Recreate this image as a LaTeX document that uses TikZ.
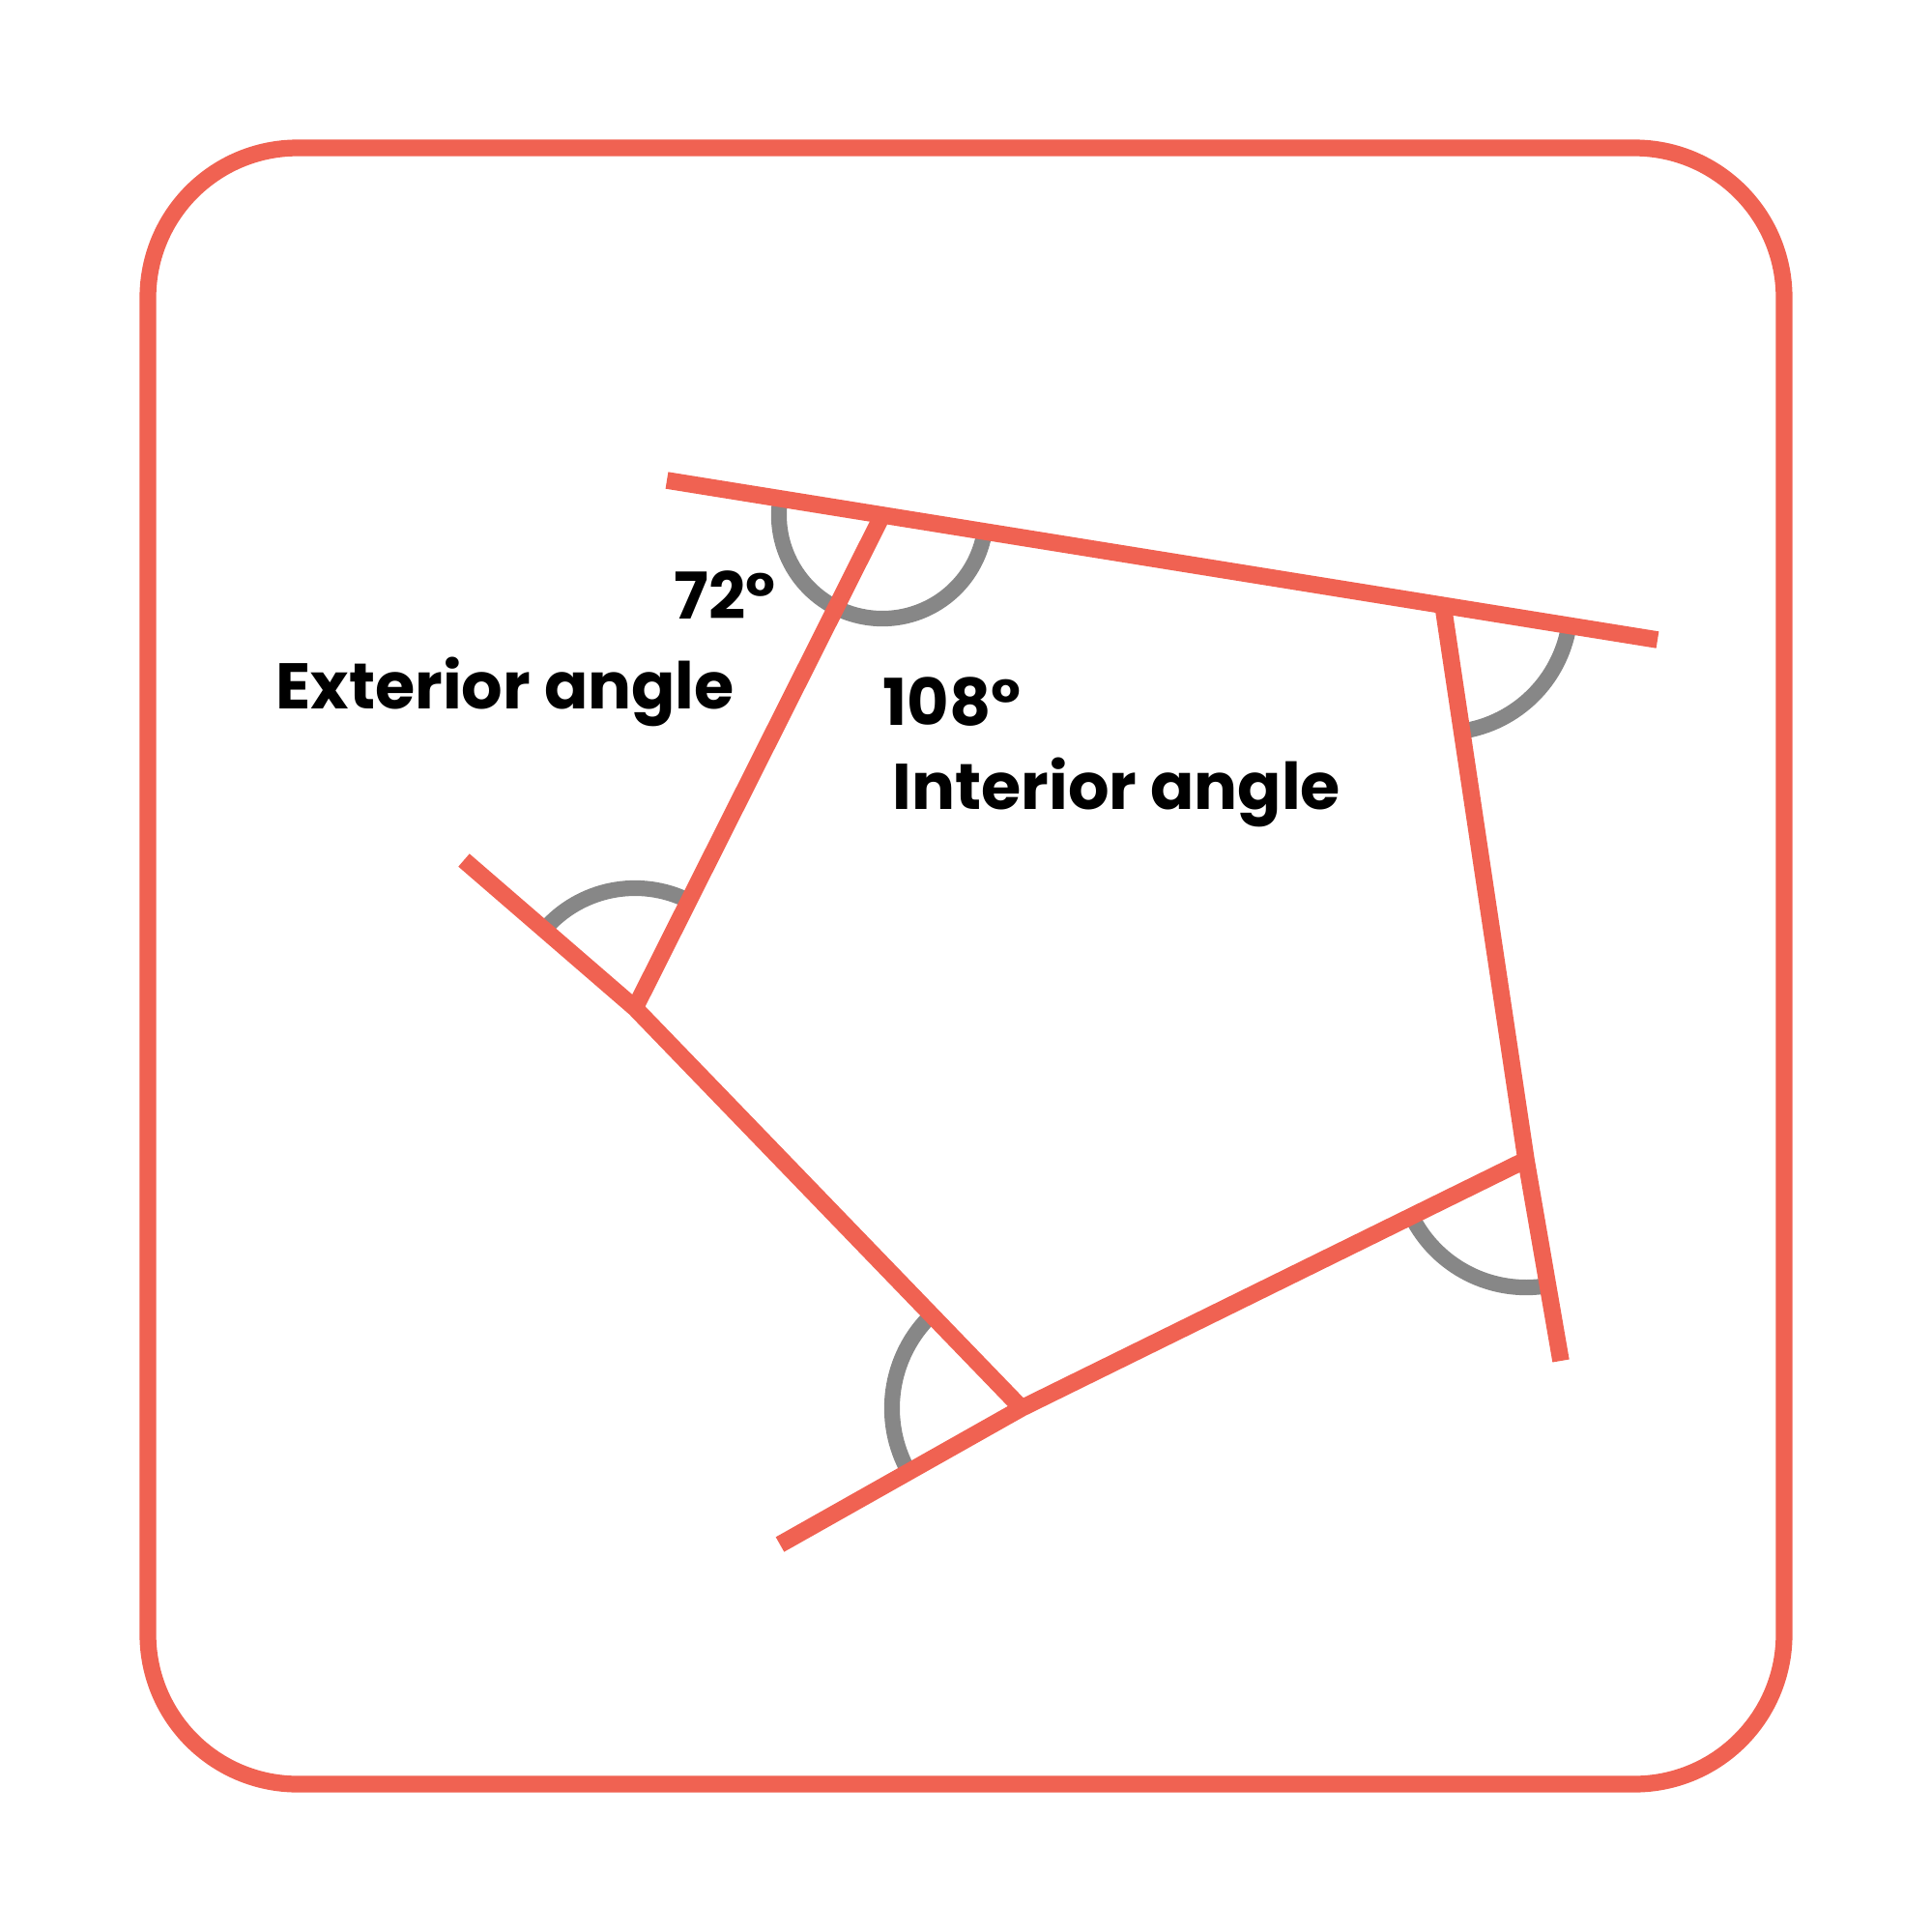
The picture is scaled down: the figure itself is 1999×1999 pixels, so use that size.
\documentclass[tikz,border=0pt]{standalone}
\usepackage{fontspec}
\setmainfont{Poppins}[UprightFont=* Bold]
\usetikzlibrary{angles}

\definecolor{edgered}{RGB}{240,98,82}
\definecolor{arcgray}{RGB}{135,135,135}

\begin{document}
\begin{tikzpicture}[x=0.01cm,y=-0.01cm,
  edge/.style={draw=edgered,line width=5pt},
  anglearc/.style={draw=arcgray,line width=4.6pt},
  lbl/.style={inner sep=0pt,anchor=base west,font=\fontsize{19}{23}\selectfont}]
\useasboundingbox (0,0) rectangle (1999,1999);

% Draw the frame
  \draw[edgered,line width=4.9pt,rounded corners=1.55cm] (153,153) rectangle (1846,1846);

  % Corners of the pentagon and the free ends of the sides
  \coordinate (A) at (913,533);
  \coordinate (B) at (657,1043);
  \coordinate (C) at (1057,1457);
  \coordinate (D) at (1579,1200);
  \coordinate (E) at (1493,626);
  \coordinate (T1) at (690,497);
  \coordinate (T2) at (1715,662);
  \coordinate (L1) at (480,890);
  \coordinate (L2) at (807,1598);
  \coordinate (R2) at (1615,1408);

  % Angle arcs
  \pic[anglearc,angle radius=1.07cm] {angle=T1--A--E};
  \pic[anglearc,angle radius=1.32cm] {angle=D--E--T2};
  \pic[anglearc,angle radius=1.32cm] {angle=C--D--R2};
  \pic[anglearc,angle radius=1.34cm] {angle=B--C--L2};
  \pic[anglearc,angle radius=1.24cm] {angle=A--B--L1};

  % Sides, extended past the corners
  \draw[edge] (T1) -- (T2);
  \draw[edge] (A) -- (B);
  \draw[edge] (L1) -- (B) -- (C);
  \draw[edge] (L2) -- (C) -- (D);
  \draw[edge] (E) -- (D) -- (R2);

  \node[lbl] (extval) at (697,640) {72°};
  \node[lbl] (exttext) at (285,733) {Exterior angle};
  \node[lbl] (intval) at (913,750) {108°};
  \node[lbl] (inttext) at (923,837) {Interior angle};

\end{tikzpicture}
\end{document}
